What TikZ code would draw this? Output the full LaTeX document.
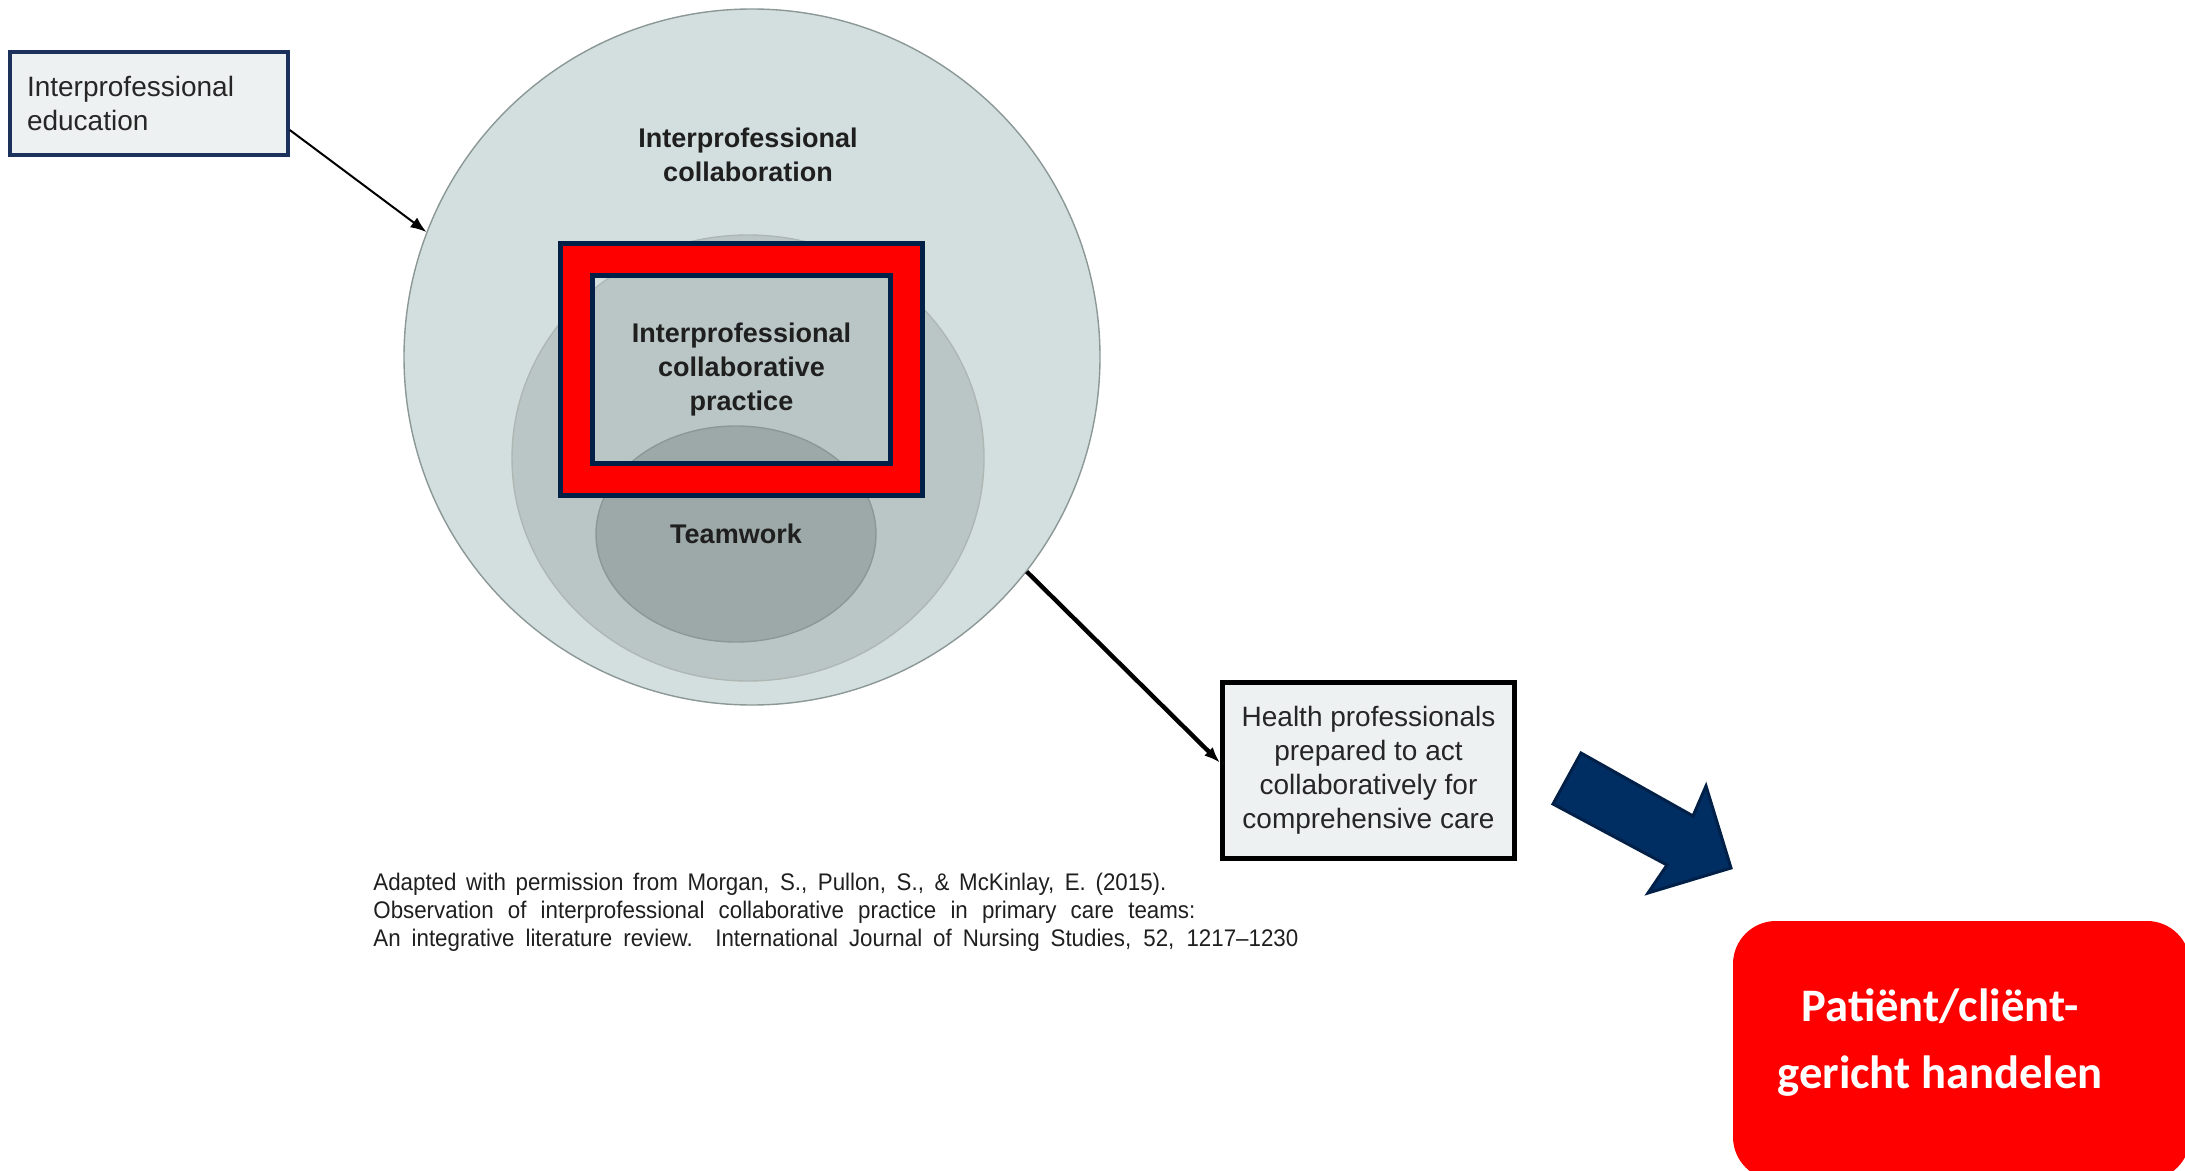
\documentclass[tikz,border=0pt]{standalone}
\usepackage{fontspec}
\setmainfont{Liberation Sans}
\newfontfamily\calfont{Carlito}
\newfontfamily\citefont[FakeStretch=0.93,Ligatures=TeX]{Liberation Sans}
\usetikzlibrary{shapes.geometric,arrows.meta}
\definecolor{outerfill}{RGB}{211,223,222}
\definecolor{midfill}{RGB}{185,198,197}
\definecolor{teamfill}{RGB}{157,169,168}
\definecolor{ringline}{RGB}{140,152,150}
\definecolor{navyline}{RGB}{0,32,72}
\definecolor{navyfill}{RGB}{0,45,98}
\definecolor{ipeline}{RGB}{28,50,92}
\definecolor{boxfill}{RGB}{238,241,241}
\definecolor{boxtext}{RGB}{38,38,38}

\begin{document}
\begin{tikzpicture}[x=0.5pt,y=-0.5pt,
  ring/.style={draw=ringline,line width=0.7pt},
  lbl/.style={font=\bfseries\fontsize{13.5pt}{17pt}\selectfont,text=black!88,align=center},
  infobox/.style={draw,fill=boxfill,text=boxtext,font=\fontsize{14pt}{17pt}\selectfont},
  linkarrow/.style={-{Latex[length=8pt,width=6pt]}}]
\useasboundingbox (0,0) rectangle (2185,1171);
% circles
\node[ring,circle,fill=outerfill,minimum size=348pt] (ipc) at (752,357) {};
\node[ring,ellipse,fill=midfill,draw=ringline!70,minimum width=236pt,minimum height=223pt] (mid) at (748,458) {};
\node[ring,ellipse,fill=teamfill,minimum width=140pt,minimum height=108pt,lbl] (tw) at (736,534) {Teamwork};
\node[lbl] (ipclbl) at (748,155) {Interprofessional\\collaboration};
% red frame
\node[draw=navyline,line width=2.5pt,double=red,double distance=13.5pt,
  minimum width=165pt,minimum height=110pt,lbl] (icp) at (741.5,369.5)
  {Interprofessional\\collaborative\\practice};
% boxes
\node[infobox,draw=ipeline,line width=1.75pt,text width=122pt,inner sep=8.5pt,
  minimum height=51.5pt,align=left] (ipe) at (149,103.5) {Interprofessional\\education};
\node[infobox,line width=2.5pt,minimum width=146pt,minimum height=88pt,align=center] (hp)
  at (1368.5,770.5) {Health professionals\\prepared to act\\collaboratively for\\comprehensive care};
% arrows
\draw[linkarrow,line width=1pt] (ipe.east |- 0,130) -- (ipc.159);
\draw[linkarrow,line width=2.2pt] (ipc.-38) -- (hp.177);
\draw[draw=navyline,fill=navyfill,line width=1.5pt] (1581,753) -- (1553,804) -- (1667,865)
  -- (1648,893) -- (1731,868) -- (1706,786) -- (1693,816) -- cycle;
% outcome
\node[rounded corners=21.5pt,fill=red,minimum width=228.5pt,minimum height=129.5pt] (pcbox)
  at (1961.5,1050.5) {};
\node[text=white,font=\calfont\bfseries\fontsize{23.3pt}{33.5pt}\selectfont,align=center] (pctext)
  at (1940,1043) {Patiënt/cliënt-\\gericht handelen};
% citation
\node[font=\citefont\fontsize{12pt}{14pt}\selectfont,text=black!88,anchor=north west,
  align=left,inner sep=0pt] (cite) at (373,873)
  {\makebox[396.5pt][s]{Adapted with permission from Morgan, S., Pullon, S., \& McKinlay, E. (2015).}\\
   \makebox[411pt][s]{Observation of interprofessional collaborative practice in primary care teams:}\\
   \makebox[462.5pt][s]{An integrative literature review. International Journal of Nursing Studies, 52, 1217–1230}};
\end{tikzpicture}
\end{document}
